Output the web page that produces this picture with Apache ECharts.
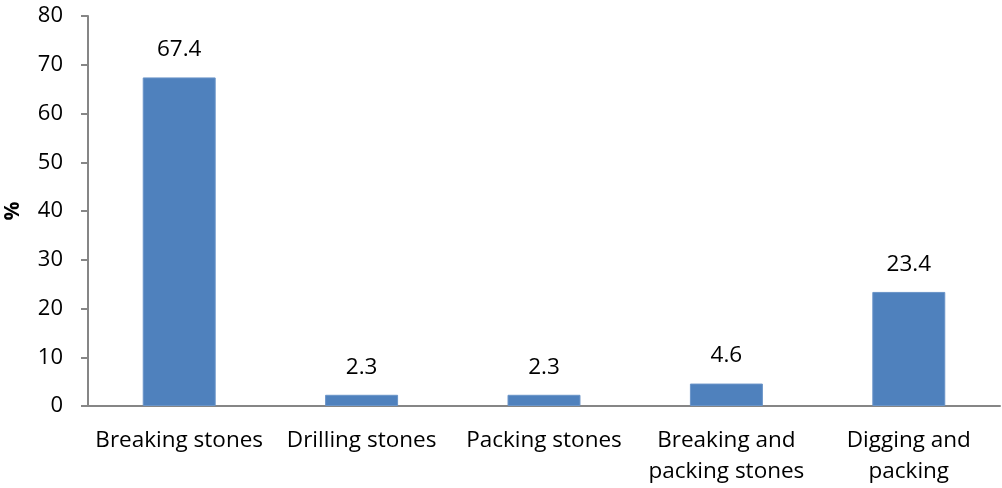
<!DOCTYPE html>
<html>
<head>
<meta charset="utf-8">
<style>
  html, body { margin: 0; padding: 0; background: #fff; }
  #chart { width: 1002px; height: 488px; }
</style>
<script src="https://cdn.jsdelivr.net/npm/echarts@6/dist/echarts.min.js"></script>
</head>
<body>
<div id="chart"></div>
<script>
// Share of children by type of quarry work (%)
const categories = ['Breaking stones', 'Drilling stones', 'Packing stones', 'Breaking and\npacking stones', 'Digging and\npacking'];
const percentages = [67.4, 2.3, 2.3, 4.6, 23.4];
const yTicks = [0, 10, 20, 30, 40, 50, 60, 70, 80];

const fontFamily = '"Open Sans", "Liberation Sans", sans-serif';
const axisGray = '#868686';

const chart = echarts.init(document.getElementById('chart'), null, { renderer: 'canvas' });
chart.setOption({
  animation: false,
  grid: { left: 88, right: 2, top: 16, bottom: 82, containLabel: false, outerBoundsMode: 'none' },
  xAxis: {
    type: 'category',
    data: categories,
    axisLine: { lineStyle: { color: axisGray, width: 2 } },
    axisTick: { show: false },
    axisLabel: { color: '#000', fontSize: 22.5, fontFamily, margin: 19, lineHeight: 31, interval: 0 }
  },
  yAxis: {
    type: 'value',
    min: yTicks[0],
    max: yTicks[yTicks.length - 1],
    interval: yTicks[1] - yTicks[0],
    name: '%',
    nameLocation: 'middle',
    nameGap: 64,
    nameRotate: 90,
    nameTextStyle: { color: '#000', fontSize: 21, fontWeight: 'bold', fontFamily },
    axisLine: { show: true, lineStyle: { color: axisGray, width: 2 } },
    axisTick: { show: true, length: 7, lineStyle: { color: axisGray, width: 2 } },
    axisLabel: { color: '#000', fontSize: 22, fontFamily, margin: 25 },
    splitLine: { show: false }
  },
  series: [{
    type: 'bar',
    data: percentages,
    barWidth: '40%',
    itemStyle: { color: '#4F81BD', borderColor: '#6A94C8', borderWidth: 1 },
    label: {
      show: true,
      position: 'top',
      distance: 16,
      color: '#000',
      fontSize: 22.5,
      fontFamily,
      formatter: p => p.value.toFixed(1)
    }
  }]
});
</script>
</body>
</html>
